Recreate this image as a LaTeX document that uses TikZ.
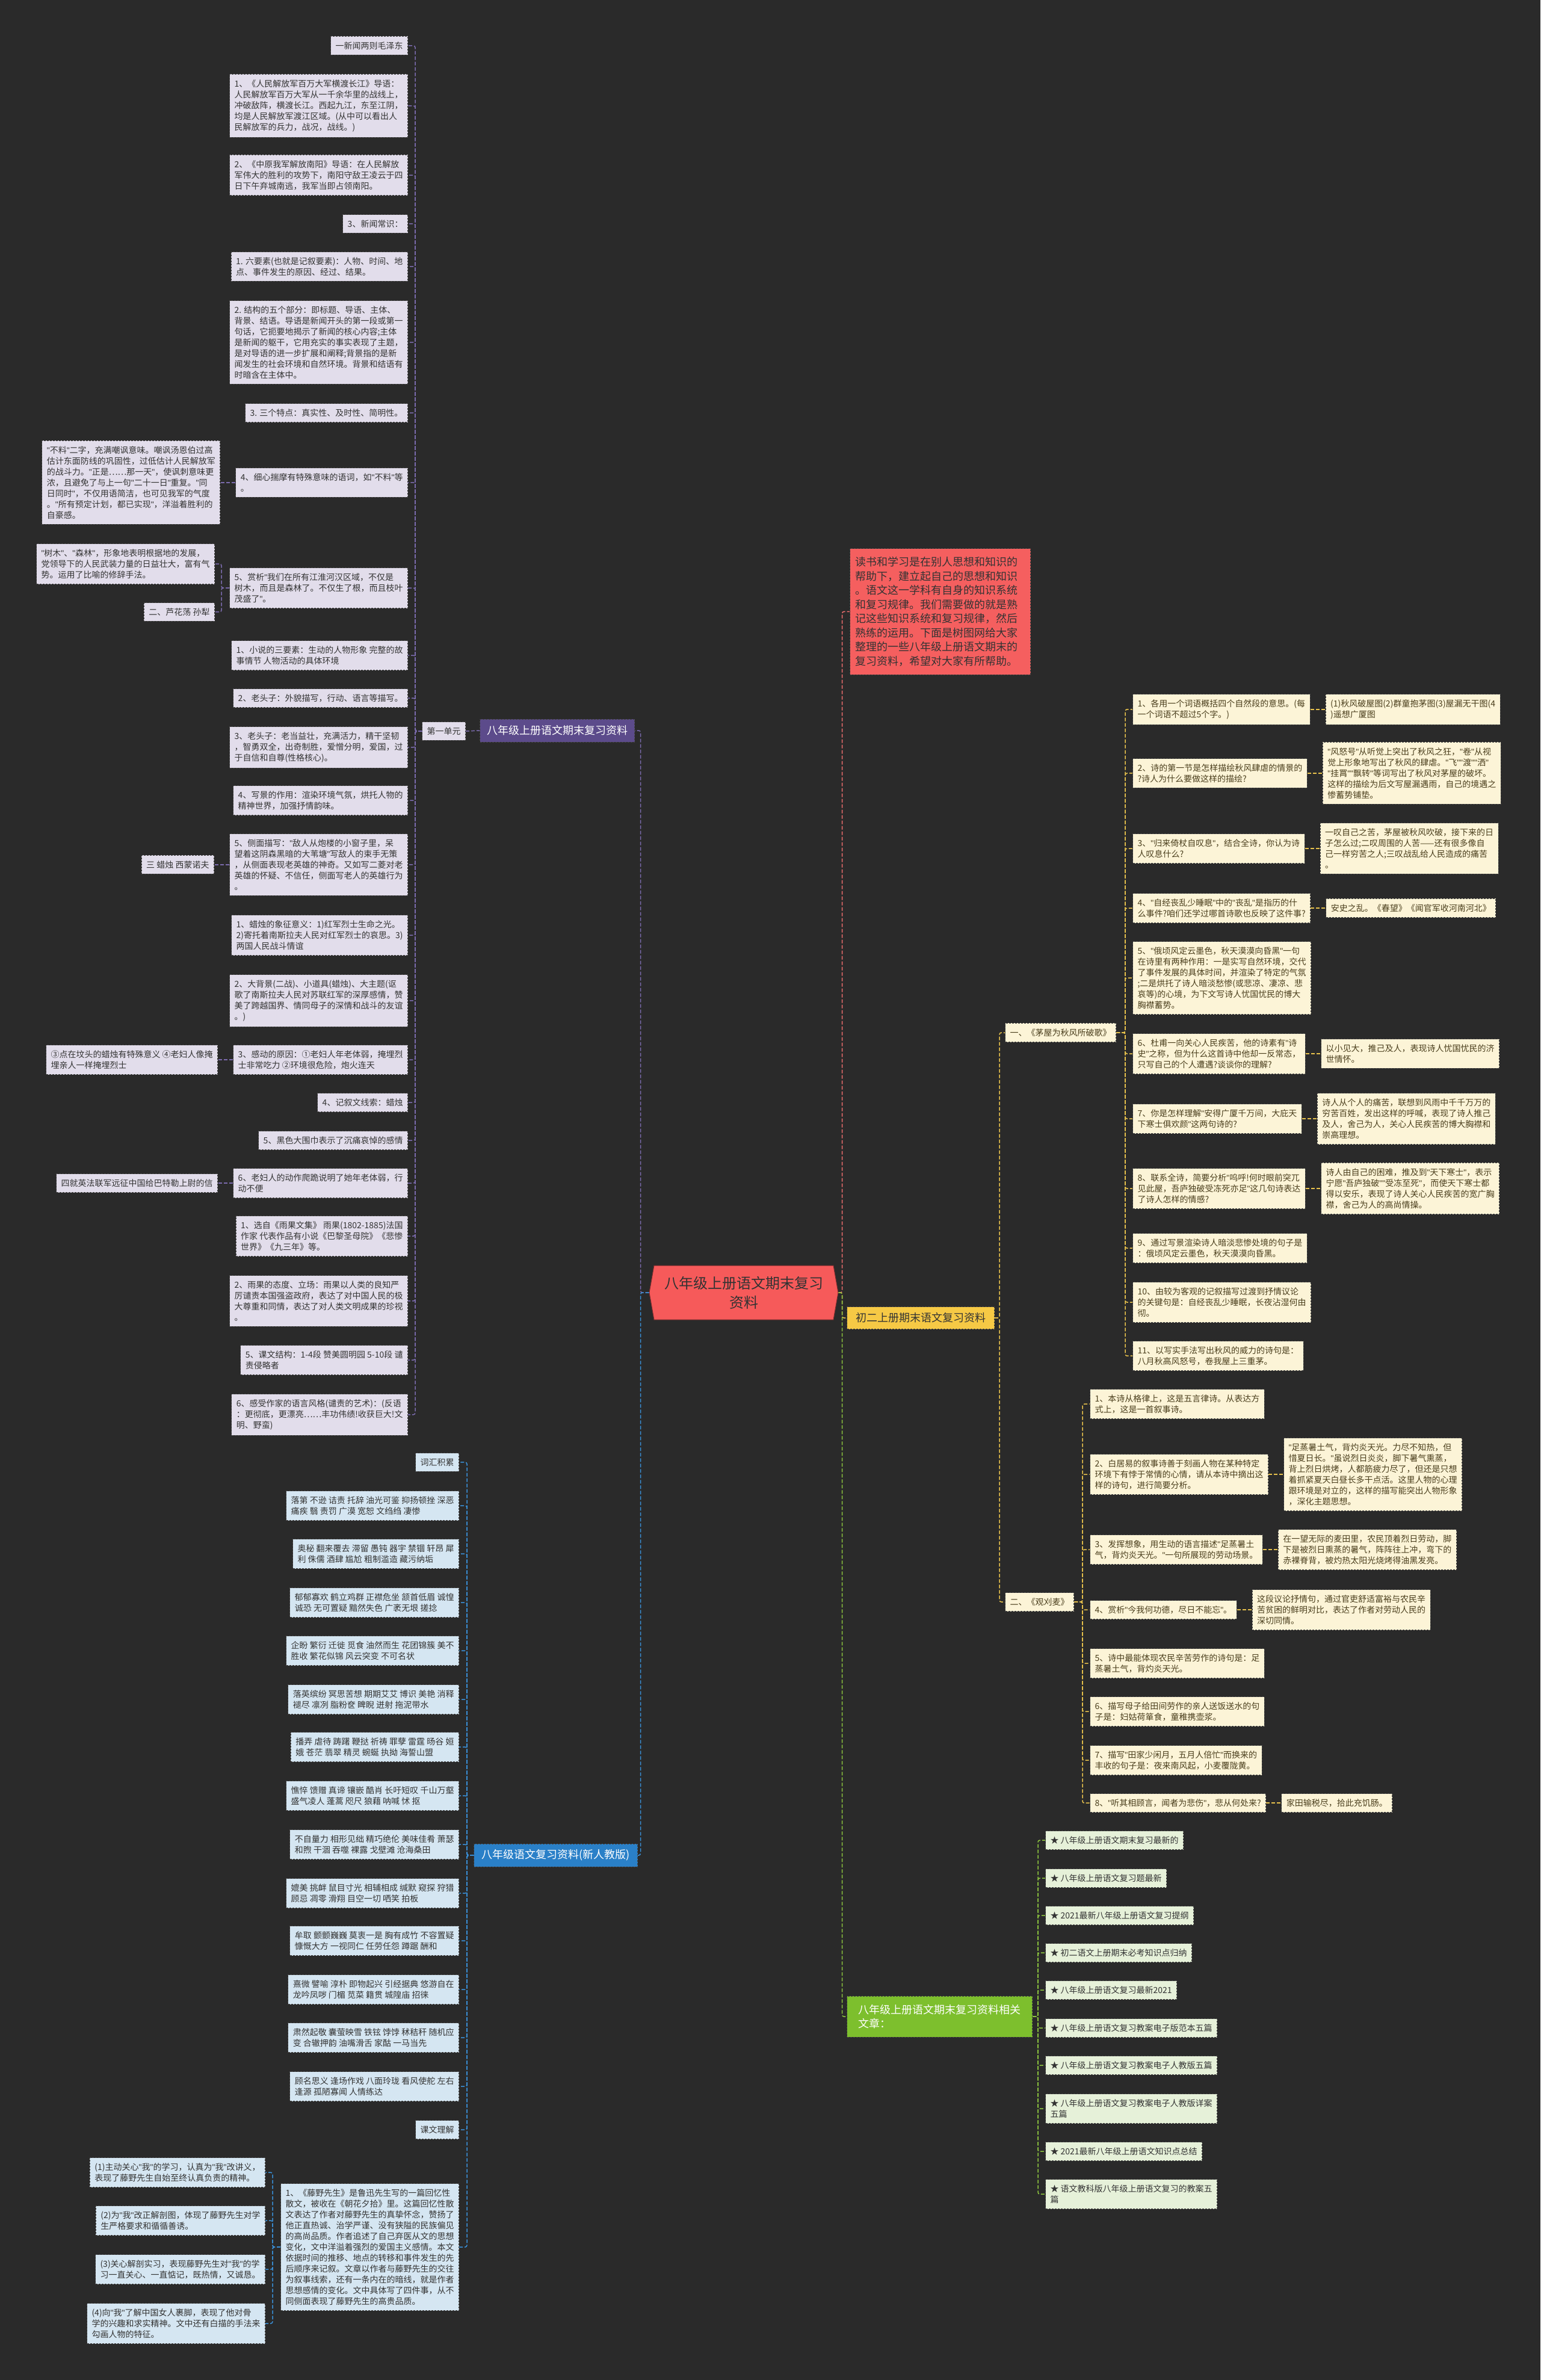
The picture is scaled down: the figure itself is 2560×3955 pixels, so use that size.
\documentclass[tikz,border=0pt]{standalone}
\usepackage{fontspec}
\setmainfont{Noto Sans CJK SC}
\newfontfamily\latinfont{Liberation Sans}
\newcommand{\dq}{{\latinfont\char34}}
\usetikzlibrary{positioning,shapes.symbols}

\definecolor{bgcol}{HTML}{2A2A2A}
\definecolor{boxline}{HTML}{454545}
\definecolor{txtdark}{HTML}{333333}
\definecolor{txtbrown}{HTML}{4A3E1C}
\definecolor{lilac}{HTML}{E2DDEB}
\definecolor{paleblue}{HTML}{D5E6F2}
\definecolor{cream}{HTML}{FCF4D7}
\definecolor{palegreen}{HTML}{E6F1D9}
\definecolor{rootred}{HTML}{F65A5A}
\definecolor{rootline}{HTML}{7A2E2E}
\definecolor{introred}{HTML}{F55F5F}
\definecolor{purplebr}{HTML}{5C4B8B}
\definecolor{bluebr}{HTML}{2A80C8}
\definecolor{yellowbr}{HTML}{F6C945}
\definecolor{greenbr}{HTML}{7DBF2D}
\definecolor{lnpurple}{HTML}{7B6BAE}
\definecolor{lnblue}{HTML}{3A90D8}
\definecolor{lnyellow}{HTML}{E8C24C}
\definecolor{lngreen}{HTML}{8DC63F}
\definecolor{lnred}{HTML}{F27070}

\tikzset{
  box/.style={draw=boxline, dash pattern=on 3pt off 2pt, line width=1pt,
    inner xsep=8pt, inner ysep=9pt, align=left, text=txtdark,
    font=\fontsize{14}{18}\selectfont},
  unitbox/.style={box, fill=lilac},
  vocabbox/.style={box, fill=paleblue},
  poembox/.style={box, fill=cream, text=txtbrown},
  linkbox/.style={box, fill=palegreen},
  branch/.style={draw=boxline, dash pattern=on 3pt off 2pt, line width=1pt,
    text=white, align=center, inner sep=6pt,
    font=\fontsize{18}{23}\selectfont},
  conn/.style={line width=1.5pt, dash pattern=on 6pt off 3pt, rounded corners=3pt},
  purpleline/.style={conn, draw=lnpurple},
  blueline/.style={conn, draw=lnblue},
  yellowline/.style={conn, draw=lnyellow},
  greenline/.style={conn, draw=lngreen},
  redline/.style={conn, draw=lnred}
}

\begin{document}
\begin{tikzpicture}[x=1pt,y=-1pt]

\fill[bgcol] (0,0) rectangle (2560,3955);
\useasboundingbox (0,0) rectangle (2560,3955);

% root and intro
\node[signal, signal to=west and east, signal pointer angle=160, fill=rootred,
  draw=rootline, line width=1pt, text=txtdark, align=center,
  font=\fontsize{24}{32}\selectfont, inner sep=4pt,
  minimum width=314pt, minimum height=90pt] (root) at (1236,2148)
  {八年级上册语文期末复习\\资料};

\node[draw=boxline, dash pattern=on 3pt off 2pt, line width=1pt, fill=introred,
  text=txtdark, align=left, text width=282pt, inner xsep=9pt, inner ysep=14pt,
  font=\fontsize{18}{23.5}\selectfont, anchor=north west] (intro) at (1412,911)
  {读书和学习是在别人思想和知识的\\帮助下，建立起自己的思想和知识\\。语文这一学科有自身的知识系统\\和复习规律。我们需要做的就是熟\\记这些知识系统和复习规律，然后\\熟练的运用。下面是树图网给大家\\整理的一些八年级上册语文期末的\\复习资料，希望对大家有所帮助。};

% branches
\node[branch, fill=purplebr, minimum width=257pt, minimum height=38pt, anchor=west] (left1) at (797,1214) {八年级上册语文期末复习资料};
\node[branch, fill=bluebr, minimum width=272pt, minimum height=38pt, anchor=west] (left2) at (787,3083) {八年级语文复习资料(新人教版)};
\node[branch, fill=yellowbr, text=txtdark, minimum width=245pt, minimum height=37pt, anchor=west] (right1) at (1407,2190) {初二上册期末语文复习资料};
\node[branch, fill=greenbr, minimum width=308pt, minimum height=68pt, anchor=west, align=left] (right2) at (1407,3351) {八年级上册语文期末复习资料相关\\文章：};

% unit one
\node[unitbox, anchor=west] (unit1) at (701,1215) {第一单元};

\node[unitbox, anchor=north east] (u1) at (678,60) {一新闻两则毛泽东};
\node[unitbox, anchor=north east] (u2) at (678,123) {1、《人民解放军百万大军横渡长江》导语：\\人民解放军百万大军从一千余华里的战线上，\\冲破敌阵，横渡长江。西起九江，东至江阴，\\均是人民解放军渡江区域。(从中可以看出人\\民解放军的兵力，战况，战线。)};
\node[unitbox, anchor=north east] (u3) at (678,257) {2、《中原我军解放南阳》导语：在人民解放\\军伟大的胜利的攻势下，南阳守敌王凌云于四\\日下午弃城南逃，我军当即占领南阳。};
\node[unitbox, anchor=north east] (u4) at (678,356) {3、新闻常识：};
\node[unitbox, anchor=north east] (u5) at (678,418) {1. 六要素(也就是记叙要素)：人物、时间、地\\点、事件发生的原因、经过、结果。};
\node[unitbox, anchor=north east] (u6) at (678,499) {2. 结构的五个部分：即标题、导语、主体、\\背景、结语。导语是新闻开头的第一段或第一\\句话，它扼要地揭示了新闻的核心内容;主体\\是新闻的躯干，它用充实的事实表现了主题，\\是对导语的进一步扩展和阐释;背景指的是新\\闻发生的社会环境和自然环境。背景和结语有\\时暗含在主体中。};
\node[unitbox, anchor=north east] (u7) at (678,670) {3. 三个特点：真实性、及时性、简明性。};
\node[unitbox, anchor=north east] (u8) at (678,777) {4、细心揣摩有特殊意味的语词，如\dq 不料\dq 等\\。};
\node[unitbox, anchor=north east] (u9) at (678,943) {5、赏析\dq 我们在所有江淮河汉区域，不仅是\\树木，而且是森林了。不仅生了根，而且枝叶\\茂盛了\dq 。};
\node[unitbox, anchor=north east] (u10) at (678,1064) {1、小说的三要素：生动的人物形象 完整的故\\事情节 人物活动的具体环境};
\node[unitbox, anchor=north east] (u11) at (678,1144) {2、老头子：外貌描写，行动、语言等描写。};
\node[unitbox, anchor=north east] (u12) at (678,1207) {3、老头子：老当益壮，充满活力，精干坚韧\\，智勇双全，出奇制胜，爱憎分明，爱国，过\\于自信和自尊(性格核心)。};
\node[unitbox, anchor=north east] (u13) at (678,1305) {4、写景的作用：渲染环境气氛，烘托人物的\\精神世界，加强抒情韵味。};
\node[unitbox, anchor=north east] (u14) at (678,1385) {5、侧面描写：\dq 敌人从炮楼的小窗子里，呆\\望着这阴森黑暗的大苇塘\dq 写敌人的束手无策\\，从侧面表现老英雄的神奇。又如写二菱对老\\英雄的怀疑、不信任，侧面写老人的英雄行为\\。};
\node[unitbox, anchor=north east] (u15) at (678,1520) {1、蜡烛的象征意义：1)红军烈士生命之光。\\2)寄托着南斯拉夫人民对红军烈士的哀思。3)\\两国人民战斗情谊};
\node[unitbox, anchor=north east] (u16) at (678,1619) {2、大背景(二战)、小道具(蜡烛)、大主题(讴\\歌了南斯拉夫人民对苏联红军的深厚感情，赞\\美了跨越国界、情同母子的深情和战斗的友谊\\。)};
\node[unitbox, anchor=north east] (u17) at (678,1736) {3、感动的原因：①老妇人年老体弱，掩埋烈\\士非常吃力 ②环境很危险，炮火连天};
\node[unitbox, anchor=north east] (u18) at (678,1816) {4、记叙文线索：蜡烛};
\node[unitbox, anchor=north east] (u19) at (678,1879) {5、黑色大围巾表示了沉痛哀悼的感情};
\node[unitbox, anchor=north east] (u20) at (678,1941) {6、老妇人的动作爬跪说明了她年老体弱，行\\动不便};
\node[unitbox, anchor=north east] (u21) at (678,2020) {1、选自《雨果文集》 雨果(1802-1885)法国\\作家 代表作品有小说《巴黎圣母院》《悲惨\\世界》《九三年》等。};
\node[unitbox, anchor=north east] (u22) at (678,2119) {2、雨果的态度、立场：雨果以人类的良知严\\厉谴责本国强盗政府，表达了对中国人民的极\\大尊重和同情，表达了对人类文明成果的珍视\\。};
\node[unitbox, anchor=north east] (u23) at (678,2235) {5、课文结构：1-4段 赞美圆明园 5-10段 谴\\责侵略者};
\node[unitbox, anchor=north east] (u24) at (678,2316) {6、感受作家的语言风格(谴责的艺术)：(反语\\：更彻底，更漂亮……丰功伟绩!收获巨大!文\\明、野蛮)};

\node[unitbox, left=25pt of u8] (u8s) {\dq 不料\dq 二字，充满嘲讽意味。嘲讽汤恩伯过高\\估计东面防线的巩固性，过低估计人民解放军\\的战斗力。\dq 正是……那一天\dq ，使讽刺意味更\\浓，且避免了与上一句\dq 二十一日\dq 重复。\dq 同\\日同时\dq ，不仅用语简洁，也可见我军的气度\\。\dq 所有预定计划，都已实现\dq ，洋溢着胜利的\\自豪感。};
\node[unitbox, anchor=north east] (u9s) at (357,903) {\dq 树木\dq 、\dq 森林\dq ，形象地表明根据地的发展，\\党领导下的人民武装力量的日益壮大，富有气\\势。运用了比喻的修辞手法。};
\node[unitbox, anchor=north east] (u9t) at (357,1001) {二、芦花荡 孙犁};
\node[unitbox, left=25pt of u14] (u14s) {三 蜡烛 西蒙诺夫};
\node[unitbox, left=25pt of u17] (u17s) {③点在坟头的蜡烛有特殊意义 ④老妇人像掩\\埋亲人一样掩埋烈士};
\node[unitbox, left=25pt of u20] (u20s) {四就英法联军远征中国给巴特勒上尉的信};

% vocabulary and text notes
\node[vocabbox, anchor=north east] (v0) at (763,2414) {词汇积累};
\node[vocabbox, anchor=north east] (v1) at (763,2477) {落第 不逊 诘责 托辞 油光可鉴 抑扬顿挫 深恶\\痛疾 翳 责罚 广漠 宽恕 文绉绉 凄惨};
\node[vocabbox, anchor=north east] (v2) at (763,2557) {奥秘 翻来覆去 滞留 愚钝 器宇 禁锢 轩昂 犀\\利 侏儒 酒肆 尴尬 粗制滥造 藏污纳垢};
\node[vocabbox, anchor=north east] (v3) at (763,2638) {郁郁寡欢 鹤立鸡群 正襟危坐 颔首低眉 诚惶\\诚恐 无可置疑 黯然失色 广袤无垠 搓捻};
\node[vocabbox, anchor=north east] (v4) at (763,2718) {企盼 繁衍 迁徙 觅食 油然而生 花团锦簇 美不\\胜收 繁花似锦 风云突变 不可名状};
\node[vocabbox, anchor=north east] (v5) at (763,2799) {落英缤纷 冥思苦想 期期艾艾 博识 美艳 消释\\褪尽 凛冽 脂粉奁 睥睨 迸射 拖泥带水};
\node[vocabbox, anchor=north east] (v6) at (763,2878) {播弄 虐待 踌躇 鞭挞 祈祷 罪孽 雷霆 旸谷 姮\\娥 苍茫 翡翠 精灵 蜿蜒 执拗 海誓山盟};
\node[vocabbox, anchor=north east] (v7) at (763,2959) {憔悴 馈赠 真谛 镶嵌 酷肖 长吁短叹 千山万壑\\ 盛气凌人 蓬蒿 咫尺 狼藉 呐喊 怵 抠};
\node[vocabbox, anchor=north east] (v8) at (763,3040) {不自量力 相形见绌 精巧绝伦 美味佳肴 萧瑟\\和煦 干涸 吞噬 裸露 戈壁滩 沧海桑田};
\node[vocabbox, anchor=north east] (v9) at (763,3121) {媲美 挑衅 鼠目寸光 相辅相成 缄默 窥探 狩猎\\ 顾忌 凋零 滑翔 目空一切 哂笑 拍板};
\node[vocabbox, anchor=north east] (v10) at (763,3200) {牟取 颤颤巍巍 莫衷一是 胸有成竹 不容置疑\\慷慨大方 一视同仁 任劳任怨 蹲踞 酬和};
\node[vocabbox, anchor=north east] (v11) at (763,3281) {熹微 譬喻 淳朴 即物起兴 引经据典 悠游自在\\龙吟凤哕 门楣 苋菜 籍贯 城隍庙 招徕};
\node[vocabbox, anchor=north east] (v12) at (763,3361) {肃然起敬 囊萤映雪 铁铉 饽饽 秫秸秆 随机应\\变 合辙押韵 油嘴滑舌 家酤 一马当先};
\node[vocabbox, anchor=north east] (v13) at (763,3442) {顾名思义 逢场作戏 八面玲珑 看风使舵 左右\\逢源 孤陋寡闻 人情练达};
\node[vocabbox, anchor=north east] (k0) at (763,3523) {课文理解};
\node[vocabbox, anchor=north east] (k1) at (763,3628) {1、《藤野先生》是鲁迅先生写的一篇回忆性\\散文，被收在《朝花夕拾》里。这篇回忆性散\\文表达了作者对藤野先生的真挚怀念，赞扬了\\他正直热诚、治学严谨、没有狭隘的民族偏见\\的高尚品质。作者追述了自己弃医从文的思想\\变化，文中洋溢着强烈的爱国主义感情。本文\\依据时间的推移、地点的转移和事件发生的先\\后顺序来记叙。文章以作者与藤野先生的交往\\为叙事线索，还有一条内在的暗线，就是作者\\思想感情的变化。文中具体写了四件事，从不\\同侧面表现了藤野先生的高贵品质。};
\node[vocabbox, anchor=north east] (k1a) at (441,3585) {(1)主动关心\dq 我\dq 的学习，认真为\dq 我\dq 改讲义，\\表现了藤野先生自始至终认真负责的精神。};
\node[vocabbox, anchor=north east] (k1b) at (441,3665) {(2)为\dq 我\dq 改正解剖图，体现了藤野先生对学\\生严格要求和循循善诱。};
\node[vocabbox, anchor=north east] (k1c) at (441,3746) {(3)关心解剖实习，表现藤野先生对\dq 我\dq 的学\\习一直关心、一直惦记，既热情，又诚恳。};
\node[vocabbox, anchor=north east] (k1d) at (441,3827) {(4)向\dq 我\dq 了解中国女人裹脚，表现了他对骨\\学的兴趣和求实精神。文中还有白描的手法来\\勾画人物的特征。};

% poems
\node[poembox, anchor=west] (p0) at (1670,1716) {一、《茅屋为秋风所破歌》};
\node[poembox, anchor=west] (g0) at (1670,2662) {二、《观刈麦》};

\node[poembox, anchor=north west] (p1) at (1882,1153) {1、各用一个词语概括四个自然段的意思。(每\\一个词语不超过5个字。)};
\node[poembox, anchor=north west] (p2) at (1882,1260) {2、诗的第一节是怎样描绘秋风肆虐的情景的\\?诗人为什么要做这样的描绘?};
\node[poembox, anchor=north west] (p3) at (1882,1385) {3、\dq 归来倚杖自叹息\dq ，结合全诗，你认为诗\\人叹息什么?};
\node[poembox, anchor=north west] (p4) at (1882,1484) {4、\dq 自经丧乱少睡眠\dq 中的\dq 丧乱\dq 是指历的什\\么事件?咱们还学过哪首诗歌也反映了这件事?};
\node[poembox, anchor=north west] (p5) at (1882,1564) {5、\dq 俄顷风定云墨色，秋天漠漠向昏黑\dq 一句\\在诗里有两种作用：一是实写自然环境，交代\\了事件发展的具体时间，并渲染了特定的气氛\\;二是烘托了诗人暗淡愁惨(或悲凉、凄凉、悲\\哀等)的心境，为下文写诗人忧国忧民的博大\\胸襟蓄势。};
\node[poembox, anchor=north west] (p6) at (1882,1717) {6、杜甫一向关心人民疾苦，他的诗素有\dq 诗\\史\dq 之称，但为什么这首诗中他却一反常态，\\只写自己的个人遭遇?谈谈你的理解?};
\node[poembox, anchor=north west] (p7) at (1882,1834) {7、你是怎样理解\dq 安得广厦千万间，大庇天\\下寒士俱欢颜\dq 这两句诗的?};
\node[poembox, anchor=north west] (p8) at (1882,1941) {8、联系全诗，简要分析\dq 呜呼!何时眼前突兀\\见此屋，吾庐独破受冻死亦足\dq 这几句诗表达\\了诗人怎样的情感?};
\node[poembox, anchor=north west] (p9) at (1882,2049) {9、通过写景渲染诗人暗淡悲惨处境的句子是\\：俄顷风定云墨色，秋天漠漠向昏黑。};
\node[poembox, anchor=north west] (p10) at (1882,2130) {10、由较为客观的记叙描写过渡到抒情议论\\的关键句是：自经丧乱少睡眠，长夜沾湿何由\\彻。};
\node[poembox, anchor=north west] (p11) at (1882,2228) {11、以写实手法写出秋风的威力的诗句是：\\八月秋高风怒号，卷我屋上三重茅。};

\node[poembox, right=25pt of p1] (pa1) {(1)秋风破屋图(2)群童抱茅图(3)屋漏无干图(4\\)遥想广厦图};
\node[poembox, right=25pt of p2] (pa2) {\dq 风怒号\dq 从听觉上突出了秋风之狂，\dq 卷\dq 从视\\觉上形象地写出了秋风的肆虐。\dq 飞\dq\dq 渡\dq\dq 洒\dq\\\dq 挂罥\dq\dq 飘转\dq 等词写出了秋风对茅屋的破坏。\\这样的描绘为后文写屋漏遇雨，自己的境遇之\\惨蓄势铺垫。};
\node[poembox, right=25pt of p3] (pa3) {一叹自己之苦，茅屋被秋风吹破，接下来的日\\子怎么过;二叹周围的人苦——还有很多像自\\己一样穷苦之人;三叹战乱给人民造成的痛苦\\。};
\node[poembox, right=25pt of p4] (pa4) {安史之乱。《春望》《闻官军收河南河北》};
\node[poembox, right=25pt of p6] (pa6) {以小见大，推己及人，表现诗人忧国忧民的济\\世情怀。};
\node[poembox, right=25pt of p7] (pa7) {诗人从个人的痛苦，联想到风雨中千千万万的\\穷苦百姓，发出这样的呼喊，表现了诗人推己\\及人，舍己为人，关心人民疾苦的博大胸襟和\\崇高理想。};
\node[poembox, right=25pt of p8] (pa8) {诗人由自己的困难，推及到\dq 天下寒士\dq ，表示\\宁愿\dq 吾庐独破\dq\dq 受冻至死\dq ，而使天下寒士都\\得以安乐，表现了诗人关心人民疾苦的宽广胸\\襟，舍己为人的高尚情操。};

\node[poembox, anchor=north west] (g1) at (1811,2308) {1、本诗从格律上，这是五言律诗。从表达方\\式上，这是一首叙事诗。};
\node[poembox, anchor=north west] (g2) at (1811,2416) {2、白居易的叙事诗善于刻画人物在某种特定\\环境下有悖于常情的心情，请从本诗中摘出这\\样的诗句，进行简要分析。};
\node[poembox, anchor=north west] (g3) at (1811,2550) {3、发挥想象，用生动的语言描述\dq 足蒸暑土\\气，背灼炎天光。\dq 一句所展现的劳动场景。};
\node[poembox, anchor=north west] (g4) at (1811,2659) {4、赏析\dq 今我何功德，尽日不能忘\dq 。};
\node[poembox, anchor=north west] (g5) at (1811,2739) {5、诗中最能体现农民辛苦劳作的诗句是：足\\蒸暑土气，背灼炎天光。};
\node[poembox, anchor=north west] (g6) at (1811,2819) {6、描写母子给田间劳作的亲人送饭送水的句\\子是：妇姑荷箪食，童稚携壶浆。};
\node[poembox, anchor=north west] (g7) at (1811,2900) {7、描写\dq 田家少闲月，五月人倍忙\dq 而换来的\\丰收的句子是：夜来南风起，小麦覆陇黄。};
\node[poembox, anchor=north west] (g8) at (1811,2980) {8、\dq 听其相顾言，闻者为悲伤\dq ，悲从何处来?};

\node[poembox, right=25pt of g2] (ga2) {\dq 足蒸暑土气，背灼炎天光。力尽不知热，但\\惜夏日长。\dq 虽说烈日炎炎，脚下暑气熏蒸，\\背上烈日烘烤，人都筋疲力尽了，但还是只想\\着抓紧夏天白昼长多干点活。这里人物的心理\\跟环境是对立的，这样的描写能突出人物形象\\，深化主题思想。};
\node[poembox, right=25pt of g3] (ga3) {在一望无际的麦田里，农民顶着烈日劳动，脚\\下是被烈日熏蒸的暑气，阵阵往上冲，弯下的\\赤裸脊背，被灼热太阳光烧烤得油黑发亮。};
\node[poembox, right=25pt of g4] (ga4) {这段议论抒情句，通过官吏舒适富裕与农民辛\\苦贫困的鲜明对比，表达了作者对劳动人民的\\深切同情。};
\node[poembox, right=25pt of g8] (ga8) {家田输税尽，拾此充饥肠。};

% related articles
\node[linkbox, anchor=north west] (l1) at (1737,3042) {★ 八年级上册语文期末复习最新的};
\node[linkbox, anchor=north west] (l2) at (1737,3105) {★ 八年级上册语文复习题最新};
\node[linkbox, anchor=north west] (l3) at (1737,3167) {★ 2021最新八年级上册语文复习提纲};
\node[linkbox, anchor=north west] (l4) at (1737,3229) {★ 初二语文上册期末必考知识点归纳};
\node[linkbox, anchor=north west] (l5) at (1737,3291) {★ 八年级上册语文复习最新2021};
\node[linkbox, anchor=north west] (l6) at (1737,3354) {★ 八年级上册语文复习教案电子版范本五篇};
\node[linkbox, anchor=north west] (l7) at (1737,3416) {★ 八年级上册语文复习教案电子人教版五篇};
\node[linkbox, anchor=north west] (l8) at (1737,3479) {★ 八年级上册语文复习教案电子人教版详案\\五篇};
\node[linkbox, anchor=north west] (l9) at (1737,3559) {★ 2021最新八年级上册语文知识点总结};
\node[linkbox, anchor=north west] (l10) at (1737,3621) {★ 语文教科版八年级上册语文复习的教案五\\篇};

% connectors
\draw[purpleline] (root.west) -- ++(-14,0) |- (left1.east);
\draw[blueline] (root.west) -- ++(-14,0) |- (left2.east);
\draw[redline] (root.east) -- ++(6,0) |- (intro.west);
\draw[yellowline] (root.east) -- ++(6,0) |- (right1.west);
\draw[greenline] (root.east) -- ++(6,0) |- (right2.west);

\draw[purpleline] (unit1.east) -- (left1.west);
\foreach \i in {1,...,24}
  \draw[purpleline] (unit1.west) -- ++(-11,0) |- (u\i.east);
\draw[purpleline] (u8.west) -- (u8s.east);
\foreach \s in {u9s,u9t}
  \draw[purpleline] (u9.west) -- ++(-13,0) |- (\s.east);
\draw[purpleline] (u14.west) -- (u14s.east);
\draw[purpleline] (u17.west) -- (u17s.east);
\draw[purpleline] (u20.west) -- (u20s.east);

\foreach \n in {v0,v1,v2,v3,v4,v5,v6,v7,v8,v9,v10,v11,v12,v13,k0,k1}
  \draw[blueline] (left2.west) -- ++(-11,0) |- (\n.east);
\foreach \s in {a,b,c,d}
  \draw[blueline] (k1.west) -- ++(-13,0) |- (k1\s.east);

\draw[yellowline] (right1.east) -- ++(8,0) |- (p0.west);
\draw[yellowline] (right1.east) -- ++(8,0) |- (g0.west);
\foreach \i in {1,...,11}
  \draw[yellowline] (p0.east) -- ++(15,0) |- (p\i.west);
\foreach \i in {1,2,3,4,6,7,8}
  \draw[yellowline] (p\i.east) -- (pa\i.west);
\foreach \i in {1,...,8}
  \draw[yellowline] (g0.east) -- ++(14,0) |- (g\i.west);
\foreach \i in {2,3,4,8}
  \draw[yellowline] (g\i.east) -- (ga\i.west);

\foreach \i in {1,...,10}
  \draw[greenline] (right2.east) -- ++(9,0) |- (l\i.west);

\end{tikzpicture}
\end{document}
